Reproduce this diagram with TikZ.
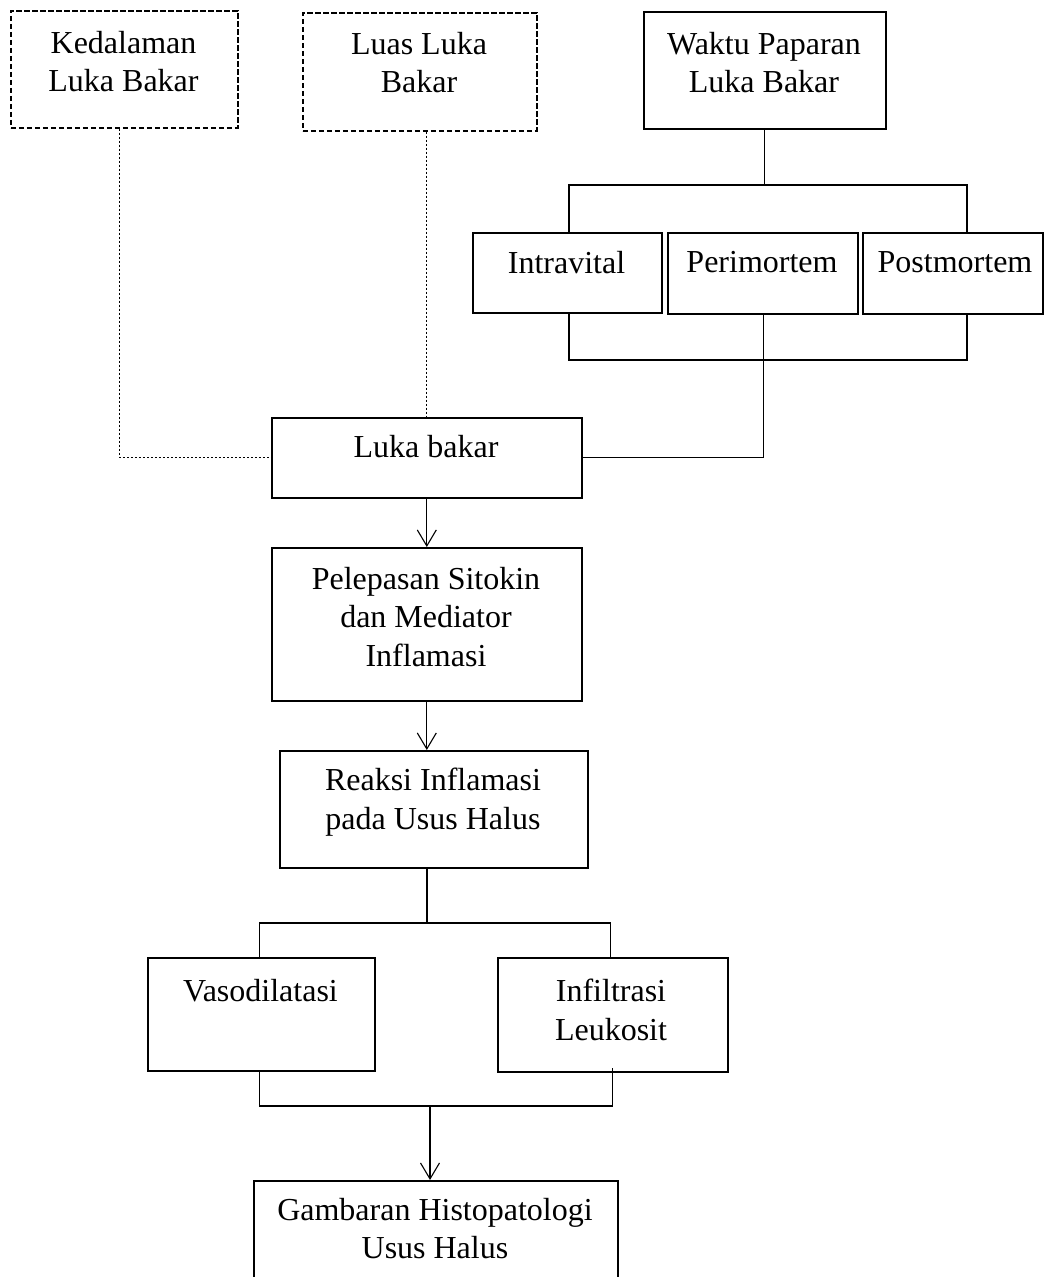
\documentclass[tikz,border=0pt]{standalone}
\usepackage{fontspec}
\setmainfont{Liberation Serif}
\usetikzlibrary{arrows.meta,calc}
\begin{document}
\begin{tikzpicture}[x=1pt,y=-1pt,
  box/.style={draw, line width=1.6pt, rectangle, inner sep=0pt, anchor=north west},
  dbox/.style={box, line width=1.7pt, dash pattern=on 5.5pt off 2.5pt},
  txt/.style={inner sep=0pt, anchor=north, align=center, font=\fontsize{32}{38.5}\selectfont},
  con/.style={line width=1.1pt},
  dcon/.style={line width=1pt, dash pattern=on 2.5pt off 1.5pt},
  arr/.style={con, -{Straight Barb[length=16pt,width=19pt,line width=1.1pt]}}
]
\clip (0,0) rectangle (1044,1277);
\fill[white] (0,0) rectangle (1044,1277);
% boxes
\node[dbox, minimum width=227, minimum height=117] (ked) at (10,10) {};
\node[dbox, minimum width=234, minimum height=118] (luas) at (302,12) {};
\node[box, minimum width=242, minimum height=117] (wak) at (643,11) {};
\node[box, minimum width=189, minimum height=80] (intra) at (472,232) {};
\node[box, minimum width=190, minimum height=81] (peri) at (667,232) {};
\node[box, minimum width=180, minimum height=81] (post) at (862,232) {};
\node[box, minimum width=310, minimum height=80] (lb) at (271,417) {};
\node[box, minimum width=310, minimum height=153] (pel) at (271,547) {};
\node[box, minimum width=308, minimum height=117] (rea) at (279,750) {};
\node[box, minimum width=227, minimum height=113] (vas) at (147,957) {};
\node[box, minimum width=230, minimum height=114] (inf) at (497,957) {};
\node[box, minimum width=364, minimum height=110] (gam) at (253,1180) {};
% texts
\node[txt] (kedT) at (123.5,31) {Kedalaman\\Luka Bakar};
\node[txt] (luasT) at (419,32) {Luas Luka\\Bakar};
\node[txt] (wakT) at (764,32) {Waktu Paparan\\Luka Bakar};
\node[txt] (intraT) at (566.5,251) {Intravital};
\node[txt] (periT) at (762,251) {Perimortem};
\node[txt] (postT) at (955,251) {Postmortem};
\node[txt] (lbT) at (426,435) {Luka bakar};
\node[txt] (pelT) at (426,567) {Pelepasan Sitokin\\dan Mediator\\Inflamasi};
\node[txt] (reaT) at (433,768) {Reaksi Inflamasi\\pada Usus Halus};
\node[txt] (vasT) at (260.5,979) {Vasodilatasi};
\node[txt] (infT) at (611,979) {Infiltrasi\\Leukosit};
\node[txt] (gamT) at (435,1198) {Gambaran Histopatologi\\Usus Halus};
% helper coordinates
\coordinate (tL) at (569,185);
\coordinate (tR) at (967,185);
\coordinate (bL) at (569,360);
\coordinate (bR) at (967,360);
\coordinate (mB) at (427,923);
\coordinate (mC) at (430,1106);
% dashed connectors
\draw[dcon] ([xshift=-4.5pt]ked.south) |- (lb.west);
\draw[dcon] (lb.north |- luas.south) -- (lb.north);
% top bracket
\draw[con] (wak.south) -- (wak.south |- tL);
\draw[con] (tL |- intra.north) -- (tL) -- (tR) -- (tR |- post.north);
% lower bracket
\draw[con] (bL |- intra.south) -- (bL) -- (bR) -- (bR |- post.south);
\draw[con] ([xshift=1pt]peri.south) |- (lb.east);
% main flow
\draw[arr] (lb.south) -- (pel.north);
\draw[arr] (pel.south) -- (pel.south |- rea.north);
\draw[con] (mB |- rea.south) -- (mB);
\draw[con] ([xshift=-1.5pt]vas.north) |- (mB) -| ([xshift=-2pt]inf.north);
\draw[con] ([xshift=-1.5pt]vas.south) |- (mC) -| ([xshift=-0.5pt,yshift=5pt]inf.south);
\draw[arr] (mC) -- (mC |- gam.north);
\end{tikzpicture}
\end{document}
